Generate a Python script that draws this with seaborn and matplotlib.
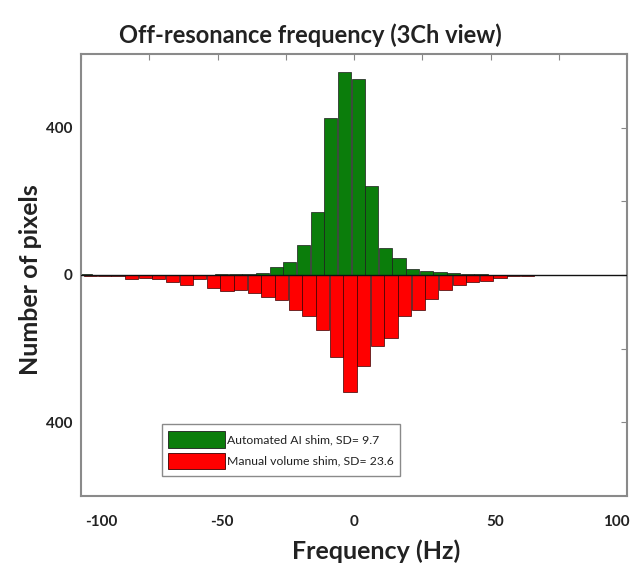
import matplotlib
matplotlib.use("Agg")
import matplotlib.pyplot as plt
from matplotlib.patches import Patch
from matplotlib.transforms import ScaledTranslation
import seaborn as sns
import pandas as pd

# ---- data ----
green_freq = [-98.5, -48.5, -43.5, -38.5, -33.5, -28.5, -23.5, -18.5, -13.5, -8.5,
              -3.5, 1.5, 6.5, 11.5, 16.5, 21.5, 26.5, 31.5, 36.5, 41.5, 46.5]
green_count = [4, 2, 3, 4, 6, 22, 36, 81, 172, 425,
               551, 533, 241, 72, 45, 16, 12, 8, 5, 3, 2]

red_freq = [-96.5, -91.5, -86.5, -81.5, -76.5, -71.5, -66.5, -61.5, -56.5, -51.5,
            -46.5, -41.5, -36.5, -31.5, -26.5, -21.5, -16.5, -11.5, -6.5, -1.5,
            3.5, 8.5, 13.5, 18.5, 23.5, 28.5, 33.5, 38.5, 43.5, 48.5,
            53.5, 58.5, 63.5]
red_count = [4, 2, 3, 12, 8, 11, 20, 26, 12, 35,
             44, 41, 50, 59, 69, 96, 112, 148, 222, 317,
             248, 192, 172, 112, 95, 66, 42, 28, 20, 15,
             7, 4, 2]

x_ticks = [-100, -75, -50, -25, 0, 25, 50, 75, 100]
x_ticklabels = ["-100", "", "-50", "", "0", "", "50", "", "100"]
y_ticks = [-400, -200, 0, 200, 400]
y_ticklabels = ["400", "", "0", "", "400"]

title = "Off-resonance frequency (3Ch view)"
xlabel = "Frequency (Hz)"
ylabel = "Number of pixels"
labels = ["Automated AI shim, SD= 9.7", "Manual volume shim, SD= 23.6"]
colors = ["#0b7d0b", "#ff0000"]

# ---- figure ----
sns.set_style("white")
plt.rcParams["font.family"] = ["Lato", "DejaVu Sans"]

fig = plt.figure(figsize=(6.34, 5.67), dpi=100)
ax = fig.add_axes([0.1278, 0.1252, 0.8612, 0.7796])

dfg = pd.DataFrame({"freq": green_freq, "count": green_count})
dfr = pd.DataFrame({"freq": red_freq, "count": [-v for v in red_count]})

sns.barplot(data=dfg, x="freq", y="count", native_scale=True, orient="x",
            width=0.97, color=colors[0], saturation=1, edgecolor="#1c1c1c",
            linewidth=0.5, errorbar=None, ax=ax)
sns.barplot(data=dfr, x="freq", y="count", native_scale=True, orient="x",
            width=0.97, color=colors[1], saturation=1, edgecolor="#3a0000",
            linewidth=0.5, errorbar=None, ax=ax)

ax.axhline(0, color="#111111", lw=1.0, zorder=5)

ax.set_xlim(-100, 100)
ax.set_ylim(-600, 600)
ax.set_xticks(x_ticks)
ax.set_xticklabels(x_ticklabels)
ax.set_yticks(y_ticks)
ax.set_yticklabels(y_ticklabels)

ax.tick_params(axis="both", direction="in", length=4, width=0.8, color="#888888",
               top=True, right=True, labelsize=11, labelcolor="#222222")
ax.tick_params(axis="x", pad=14)
ax.tick_params(axis="y", pad=6)
for lbl in ax.get_xticklabels() + ax.get_yticklabels():
    lbl.set_fontweight("bold")

# small horizontal offsets of x tick labels as in the reference (pixels)
x_label_shift = {"-100": 20, "-50": 4, "50": 5, "100": -11}
for lbl in ax.get_xticklabels():
    dx = x_label_shift.get(lbl.get_text(), 0)
    if dx:
        lbl.set_transform(lbl.get_transform() + ScaledTranslation(dx / 100, 0, fig.dpi_scale_trans))

for s in ax.spines.values():
    s.set_color("#8a8a8a")
    s.set_linewidth(1.5)
    s.set_visible(True)

ax.set_xlabel(xlabel, fontsize=18, fontweight="bold", color="#222222", labelpad=7, x=0.54)
ax.set_ylabel(ylabel, fontsize=18, fontweight="bold", color="#222222", labelpad=3, y=0.49)
ax.set_title(title, fontsize=17, fontweight="bold", color="#222222", pad=8, x=0.42)

handles = [Patch(facecolor=colors[0], edgecolor="#1c1c1c", lw=0.6),
           Patch(facecolor=colors[1], edgecolor="#3a0000", lw=0.6)]
leg = ax.legend(handles, labels, loc="center", bbox_to_anchor=(0.366, 0.104),
                fontsize=8.8, handlelength=4.6, handleheight=1.72, labelspacing=0.41,
                handletextpad=0.15, borderpad=0.55, borderaxespad=0, fancybox=False,
                framealpha=1, edgecolor="#8a8a8a", frameon=True)
leg.get_frame().set_linewidth(1.0)
for t in leg.get_texts():
    t.set_color("#222222")

fig.savefig("out.png", dpi=100)
